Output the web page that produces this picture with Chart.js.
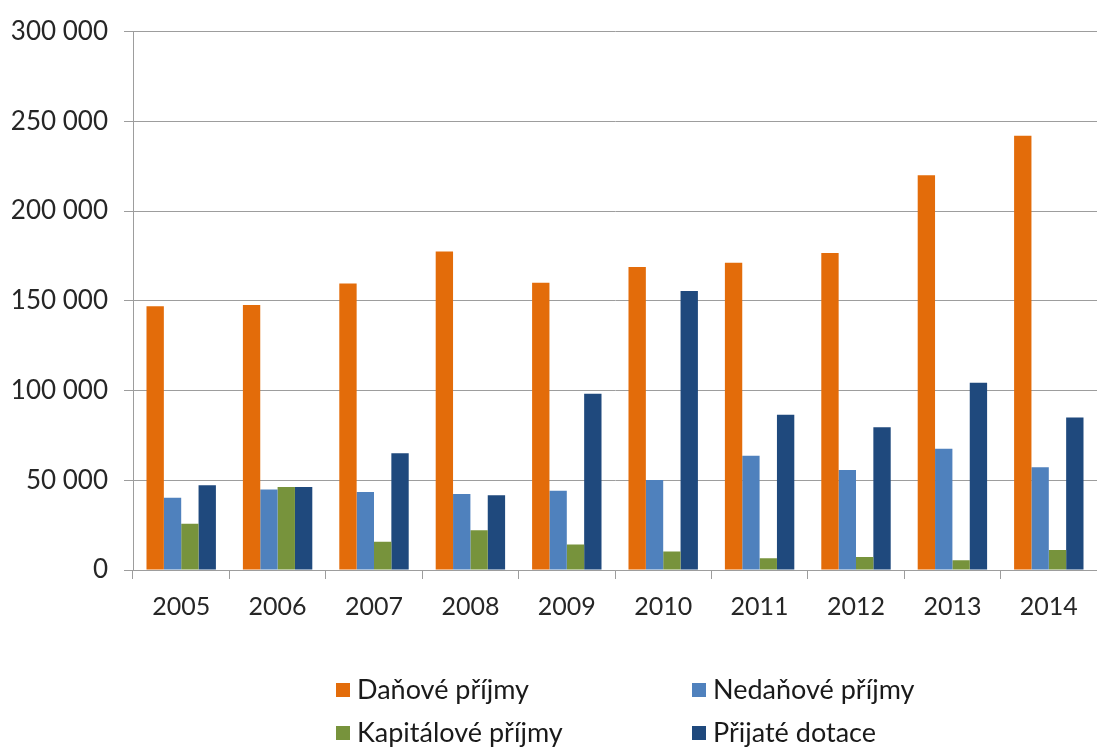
<!DOCTYPE html>
<html>
<head>
<meta charset="utf-8">
<script src="https://cdn.jsdelivr.net/npm/chart.js@4"></script>
<style>
html,body{margin:0;padding:0;background:#fff;}
#wrap{width:1097px;height:749px;position:relative;}
</style>
</head>
<body>
<div id="wrap"><canvas id="c" width="1097" height="749"></canvas></div>
<script>
const categories = ['2005','2006','2007','2008','2009','2010','2011','2012','2013','2014'];
const danovePrijmy    = [147000,147600,159600,177500,160100,168800,171200,176700,219900,241900];
const nedanovePrijmy  = [40200,44800,43400,42400,44100,50200,63700,55700,67500,57200];
const kapitalovePrijmy= [25800,46300,15700,22100,14200,10300,6500,7200,5500,11100];
const prijateDotace   = [47200,46300,65100,41700,98200,155400,86500,79500,104400,85000];
const seriesNames = ['Daňové příjmy','Nedaňové příjmy','Kapitálové příjmy','Přijaté dotace'];
const seriesColors = ['#E36C0A','#4F81BD','#77933C','#1F497D'];
const yMin = 0, yMax = 300000, yStep = 50000;

const FONT = 'Lato, "Open Sans", sans-serif';
const fmt = v => String(v).replace(/\B(?=(\d{3})+(?!\d))/g, ' ');

const gridLegend = {
  id: 'gridLegend',
  afterDraw(chart) {
    const ctx = chart.ctx;
    const cols = [336, 692], rows = [690, 733];
    ctx.save();
    ctx.font = '27px ' + FONT;
    ctx.textBaseline = 'middle';
    ctx.textAlign = 'left';
    chart.data.datasets.forEach((ds, i) => {
      const x = cols[i % 2], y = rows[Math.floor(i / 2)];
      ctx.fillStyle = ds.backgroundColor;
      ctx.fillRect(x, y - 7, 14, 14);
      ctx.fillStyle = '#1a1a1a';
      ctx.fillText(ds.label, x + 21, y);
    });
    ctx.restore();
  }
};

const datasets = [danovePrijmy, nedanovePrijmy, kapitalovePrijmy, prijateDotace].map((d, i) => ({
  label: seriesNames[i],
  data: d,
  backgroundColor: seriesColors[i],
  borderWidth: 0,
  categoryPercentage: 0.72,
  barPercentage: 1.0
}));

new Chart(document.getElementById('c'), {
  type: 'bar',
  data: { labels: categories, datasets },
  plugins: [gridLegend],
  options: {
    responsive: false,
    animation: false,
    layout: { padding: { top: 28, right: -6, left: 0, bottom: 0 } },
    plugins: { legend: { display: false }, tooltip: { enabled: false } },
    scales: {
      x: {
        grid: { display: true, drawOnChartArea: false, offset: true, tickLength: 9, color: '#9d9d9d', lineWidth: 1 },
        border: { display: true, color: '#9d9d9d', width: 1 },
        ticks: { font: { family: FONT, size: 25 }, color: '#262626', padding: 13 },
        afterFit(s) { s.height = 179; }
      },
      y: {
        min: yMin, max: yMax,
        grid: { color: '#9d9d9d', lineWidth: 1, tickLength: 9 },
        border: { display: true, color: '#9d9d9d', width: 1 },
        ticks: { stepSize: yStep, font: { family: FONT, size: 26 }, color: '#262626', padding: 16, callback: v => fmt(v) },
        afterFit(s) { s.width = 133; }
      }
    }
  }
});
</script>
</body>
</html>
